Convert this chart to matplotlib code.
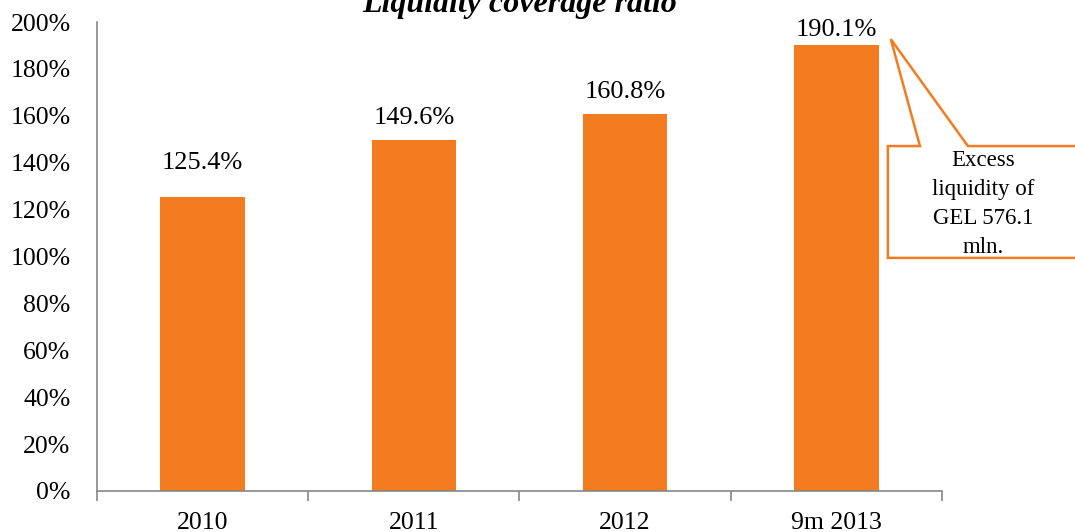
import matplotlib.pyplot as plt
from matplotlib.patches import Polygon

# Data
years = ['2010', '2011', '2012', '9m 2013']
lcr = [125.4, 149.6, 160.8, 190.1]
yticks = list(range(0, 201, 20))

plt.rcParams['font.family'] = ['Liberation Serif', 'DejaVu Serif']

fig = plt.figure(figsize=(10.75, 5.32), dpi=100)
ax = fig.add_axes([0.0902, 0.0771, 0.7860, 0.8815])

orange = '#F47C20'
x = range(len(years))
bars = ax.bar(x, lcr, width=0.4, color=orange)

# value labels (gap above each bar, in points, as placed in the original)
label_gap = [20, 12, 11.5, 6.5]
for xi, v, g in zip(x, lcr, label_gap):
    ax.annotate(f'{v:.1f}%', (xi, v), xytext=(0, g), textcoords='offset points',
                ha='center', va='baseline', fontsize=19)

ax.set_xlim(-0.5, 3.5)
ax.set_ylim(0, 200)
ax.set_yticks(yticks)
ax.set_yticklabels([f'{t}%' for t in yticks], fontsize=18.5)
ax.set_xticks(list(x))
ax.set_xticklabels(years, fontsize=18.5)
ax.set_xticks([-0.5, 0.5, 1.5, 2.5, 3.5], minor=True)
ax.tick_params(axis='x', which='major', length=0, pad=15)
ax.tick_params(axis='x', which='minor', length=7, direction='out', color='#868686', width=1.2)
ax.tick_params(axis='y', length=0, pad=19)

for s in ['top', 'right']:
    ax.spines[s].set_visible(False)
for s in ['left', 'bottom']:
    ax.spines[s].set_color('#868686')
    ax.spines[s].set_linewidth(1.2)

# title sits partly cut off at the top edge, as in the original
ax.annotate('Liquidity coverage ratio', (0.5, 1.0), xycoords='axes fraction',
            xytext=(0, 7), textcoords='offset points', fontsize=23,
            fontweight='bold', fontstyle='italic', ha='center', va='baseline')

# callout
callout = Polygon([(3.258, 192.7), (3.396, 147.1), (3.244, 147.1), (3.244, 99.4),
                   (5.0, 99.4), (5.0, 147.1), (3.623, 147.1)],
                  closed=True, facecolor='white', edgecolor=orange, linewidth=1.8,
                  clip_on=False, zorder=5)
ax.add_patch(callout)
ax.text(3.694, 122.5, 'Excess\nliquidity of\nGEL 576.1\nmln.', ha='center', va='center',
        fontsize=16.5, linespacing=1.5, zorder=6, clip_on=False)

fig.savefig('out.png', dpi=100)
